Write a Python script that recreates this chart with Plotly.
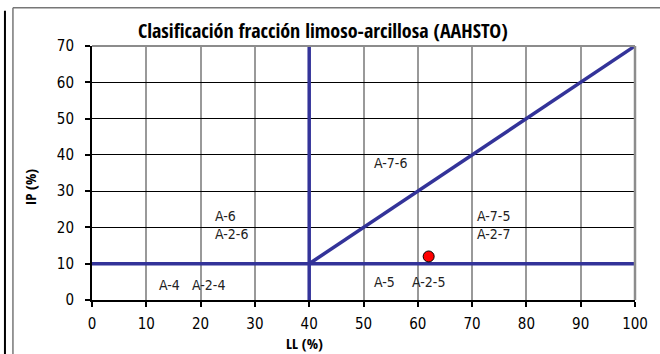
import plotly.graph_objects as go

# ─── Data ─────────────────────────────────────────────────────────────────────
# límites de la carta (LL, IP)
LIM_H_LL = [0, 100]
LIM_H_IP = [10, 10]
LIM_V_LL = [40, 40]
LIM_V_IP = [0, 70]
LIM_D_LL = [40, 100]
LIM_D_IP = [10, 70]

# muestra
MUESTRA_LL = [62]
MUESTRA_IP = [12]

# zonas
ZONA_TXT = ["A-4", "A-2-4", "A-6<br>A-2-6", "A-7-6", "A-7-5<br>A-2-7", "A-5", "A-2-5"]
ZONA_LL = [12, 18, 22.3, 51.6, 70.6, 51.6, 58.5]
ZONA_IP = [4.2, 4.2, 20.6, 37.8, 20.6, 4.9, 4.9]

X_TICKS = list(range(0, 101, 10))
Y_TICKS = list(range(0, 71, 10))

BLUE = "#333399"
FONT = "DejaVu Sans Condensed, sans-serif"
FONT_B = "Open Sans Condensed, DejaVu Sans Condensed, sans-serif"

fig = go.Figure()

for xs, ys in [(LIM_H_LL, LIM_H_IP), (LIM_V_LL, LIM_V_IP), (LIM_D_LL, LIM_D_IP)]:
    fig.add_trace(go.Scatter(
        x=xs, y=ys, mode="lines",
        line=dict(color=BLUE, width=3.5),
        hoverinfo="skip", showlegend=False, cliponaxis=False,
    ))

fig.add_trace(go.Scatter(
    x=MUESTRA_LL, y=MUESTRA_IP, mode="markers",
    marker=dict(color="#ff0000", size=11, line=dict(color="#000000", width=1)),
    showlegend=False,
    hovertemplate="LL: %{x}<br>IP: %{y}<extra></extra>",
))

for txt, lx, ly in zip(ZONA_TXT, ZONA_LL, ZONA_IP):
    fig.add_annotation(
        x=lx, y=ly, text=txt, showarrow=False,
        xanchor="left", yanchor="middle", align="left",
        font=dict(family=FONT, size=14, color="#222222"),
    )

# títulos
fig.add_annotation(
    x=0.425, y=1.061, xref="paper", yref="paper", showarrow=False,
    xanchor="center", yanchor="middle",
    text="<b>Clasificación fracción limoso-arcillosa (AAHSTO)</b>",
    font=dict(family=FONT_B, size=20, color="#000000"),
)
fig.add_annotation(
    x=0.392, y=-0.171, xref="paper", yref="paper", showarrow=False,
    xanchor="center", yanchor="middle",
    text="<b>LL (%)</b>", font=dict(family=FONT_B, size=15, color="#000000"),
)
fig.add_annotation(
    x=-0.1136, y=0.445, xref="paper", yref="paper", showarrow=False, textangle=-90,
    xanchor="center", yanchor="middle",
    text="<b>IP (%)</b>", font=dict(family=FONT_B, size=15, color="#000000"),
)

# marcos
fig.add_shape(type="line", xref="paper", yref="paper", x0=1, x1=1, y0=0, y1=1,
              line=dict(color="#8c8c8c", width=2.5))
fig.add_shape(type="line", xref="paper", yref="paper", x0=0, x1=1, y0=1, y1=1,
              line=dict(color="#8c8c8c", width=2))
fig.add_shape(type="line", xref="paper", yref="paper", x0=-0.1456, x1=1.05, y0=1.151, y1=1.151,
              line=dict(color="#777777", width=1.5))
fig.add_shape(type="line", xref="paper", yref="paper", x0=-0.1456, x1=-0.1456, y0=1.151, y1=-0.3,
              line=dict(color="#777777", width=1.5))
fig.add_shape(type="line", xref="paper", yref="paper", x0=-0.1603, x1=-0.1603, y0=1.139, y1=-0.3,
              line=dict(color="#000000", width=2))

fig.update_layout(
    width=660, height=354,
    margin=dict(l=92, r=22, t=46, b=54),
    paper_bgcolor="white", plot_bgcolor="white",
    font=dict(family=FONT, size=15, color="#000000"),
    xaxis=dict(
        range=[0, 100], tickvals=X_TICKS, showgrid=True,
        gridcolor="#999999", gridwidth=1.5,
        showline=True, linecolor="#000000", linewidth=2,
        ticks="outside", ticklen=5, tickcolor="#000000", tickwidth=1.5,
        zeroline=False, ticklabelstandoff=4,
    ),
    yaxis=dict(
        range=[0, 70], tickvals=Y_TICKS, showgrid=True,
        gridcolor="#000000", gridwidth=1,
        showline=True, linecolor="#000000", linewidth=2,
        ticks="outside", ticklen=5, tickcolor="#000000", tickwidth=1.5,
        zeroline=False, ticklabelstandoff=8,
    ),
    showlegend=False,
)

fig.write_html("out.html", config={"displayModeBar": False},
               post_script="document.body.style.margin='0';")
